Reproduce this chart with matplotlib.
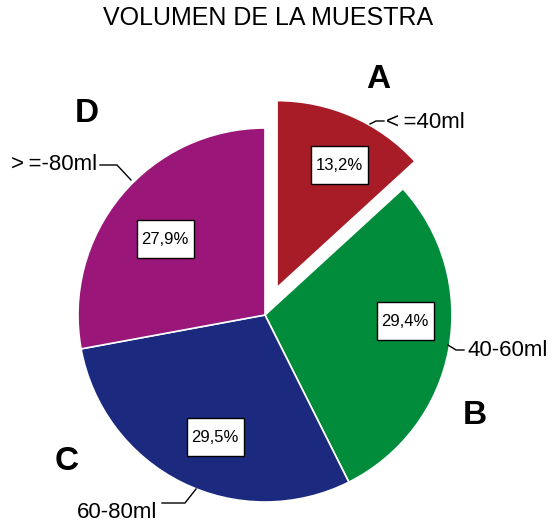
import matplotlib.pyplot as plt
from matplotlib.patches import Rectangle

plt.rcParams['font.family'] = ['Liberation Sans', 'DejaVu Sans']

# data
categories = ['<\u2009=40ml', '40-60ml', '60-80ml', '>\u2009=-80ml']
letters = ['A', 'B', 'C', 'D']
shares = [13.2, 29.4, 29.5, 27.9]
colors = ['#A71C26', '#008C3A', '#1B2A7F', '#9B1679']
explode_frac = [0.16, 0, 0, 0]

# layout, in pixels (y goes down because the axis is inverted)
center = (265, 315)
radius = 187
pct_pos = [(339, 165), (405, 321), (215, 437), (165, 239)]
cat_pos = [(386, 122), (467, 350), (77, 513), (97, 165)]
cat_ha = ['left', 'left', 'left', 'right']
leaders = [
    [(370, 124), (376, 121), (384, 121)],
    [(448, 345), (456, 350), (464, 350)],
    [(196, 489), (185, 503), (162, 503)],
    [(131, 180), (117, 165), (100, 165)],
]
letter_pos = [(378, 80), (475, 416), (67, 462), (87, 114)]

fig = plt.figure(figsize=(5.58, 5.27), dpi=100)
ax = fig.add_axes([0, 0, 1, 1])

# explode in pie() is in data units, so scale by the radius
explode = [f * radius for f in explode_frac]

# y is flipped, so counterclock + start at -90 gives clockwise from the top on screen
ax.pie(shares, colors=colors, explode=explode, startangle=-90, counterclock=True,
       center=center, radius=radius, frame=True,
       wedgeprops=dict(edgecolor='white', linewidth=1.2))
ax.set_xlim(0, 558)
ax.set_ylim(527, 0)
ax.set_aspect('equal')
ax.axis('off')

for (x, y), s in zip(pct_pos, shares):
    ax.add_patch(Rectangle((x - 28.5, y - 19), 57, 38, facecolor='white',
                           edgecolor='black', linewidth=1, zorder=3))
    ax.text(x, y, f'{s:.1f}%'.replace('.', ','), ha='center', va='center',
            fontsize=12, zorder=4)

for (x, y), lab, ha, pts in zip(cat_pos, categories, cat_ha, leaders):
    ax.text(x, y, lab, ha=ha, va='center', fontsize=16)
    ax.plot([p[0] for p in pts], [p[1] for p in pts], color='black', lw=1)

for (x, y), l in zip(letter_pos, letters):
    ax.text(x, y, l, ha='center', va='center', fontsize=24, fontweight='bold')

ax.text(268, 18, 'VOLUMEN DE LA MUESTRA', ha='center', va='center', fontsize=18)

fig.savefig('out.png', dpi=100)
